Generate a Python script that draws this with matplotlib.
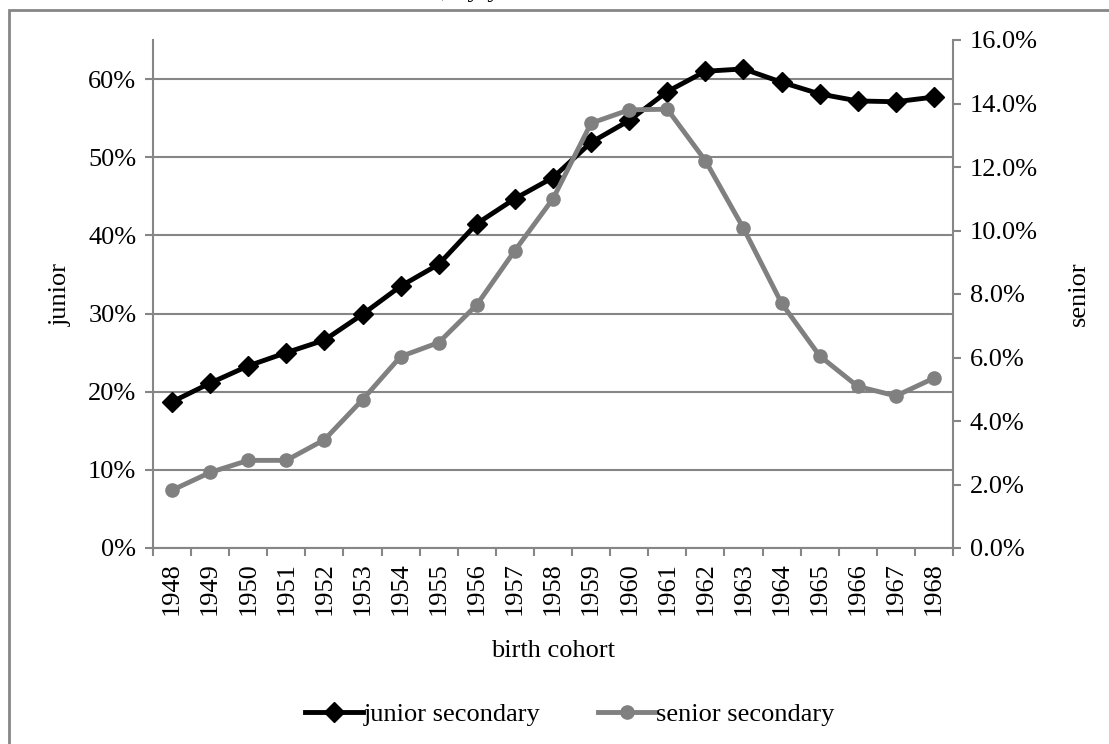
import matplotlib
matplotlib.use("Agg")
import matplotlib.pyplot as plt
from matplotlib.ticker import FuncFormatter, MultipleLocator
from matplotlib.patches import Rectangle

plt.rcParams['font.family'] = ['Liberation Serif', 'DejaVu Serif']

# birth cohorts and shares
years = list(range(1948, 1969))
junior = [18.7, 21.1, 23.3, 25.0, 26.6, 29.9, 33.5, 36.3, 41.5, 44.7, 47.4,
          51.9, 54.7, 58.4, 61.0, 61.3, 59.6, 58.1, 57.2, 57.1, 57.7]
senior = [1.82, 2.38, 2.76, 2.76, 3.41, 4.67, 6.03, 6.47, 7.66, 9.37, 11.0,
          13.38, 13.80, 13.82, 12.20, 10.07, 7.71, 6.05, 5.09, 4.79, 5.35]

grey = '#868686'
fs = 19
W, H = 1109, 744
fig = plt.figure(figsize=(W / 100, H / 100), dpi=100)

# chart-area border (only top and left visible in the crop)
fig.patches.append(Rectangle((9 / W, -0.05), 1.1, 1 - 10 / H + 0.05,
                             transform=fig.transFigure, fill=False,
                             edgecolor=grey, lw=2))
# remnant of the title cut off at the top
fig.text(441 / W, 1.0 + 3 / H, ', by y', fontsize=fs, va='baseline', ha='left')

ax = fig.add_axes([153 / W, 1 - 548 / H, 800 / W, 508 / H])
ax2 = ax.twinx()

x = list(range(len(years)))
ax.plot(x, junior, color='black', lw=3.5, marker='D', ms=10, zorder=3,
        label='junior secondary')
ax2.plot(x, senior, color='#808080', lw=3.5, marker='o', ms=9.5, zorder=3,
         label='senior secondary')

ax.set_xlim(-0.5, len(years) - 0.5)
ax.set_ylim(0, 65)
ax2.set_ylim(0, 16)

ax.set_yticks(range(0, 61, 10))
ax.yaxis.set_major_formatter(FuncFormatter(lambda v, p: f'{v:.0f}%'))
ax2.yaxis.set_major_locator(MultipleLocator(2))
ax2.yaxis.set_major_formatter(FuncFormatter(lambda v, p: f'{v:.1f}%'))

ax.set_xticks([i - 0.5 for i in range(len(years) + 1)])
ax.set_xticklabels([])
ax.set_xticks(x, minor=True)
ax.set_xticklabels([str(y) for y in years], minor=True, rotation=90,
                   fontsize=fs)
ax.tick_params(axis='x', which='minor', length=0, pad=10)
ax.tick_params(axis='x', which='major', length=6, color=grey, width=1.5)

ax.grid(axis='y', color=grey, lw=1.5)
ax.set_axisbelow(True)

for a in (ax, ax2):
    a.spines['top'].set_visible(False)
    for s in ('left', 'right', 'bottom'):
        a.spines[s].set_color(grey)
        a.spines[s].set_linewidth(1.5)
ax.spines['right'].set_visible(False)
ax2.spines['left'].set_visible(False)
ax2.spines['bottom'].set_visible(False)

ax.tick_params(axis='y', labelsize=fs, length=6, color=grey, width=1.5, pad=6)
ax2.tick_params(axis='y', labelsize=fs, length=6, color=grey, width=1.5, pad=6)

ax.set_ylabel('junior', fontsize=fs, labelpad=12)
ax2.set_ylabel('senior', fontsize=fs, labelpad=22)
ax.set_xlabel('birth cohort', fontsize=fs, labelpad=18)

h1, l1 = ax.get_legend_handles_labels()
h2, l2 = ax2.get_legend_handles_labels()
fig.legend(h1 + h2, l1 + l2, loc='center', bbox_to_anchor=(570 / W, 1 - 714 / H),
           ncol=2, frameon=False, fontsize=fs, handlelength=2.2,
           handletextpad=0.0, columnspacing=2.2)

fig.savefig('out.png', dpi=100)
